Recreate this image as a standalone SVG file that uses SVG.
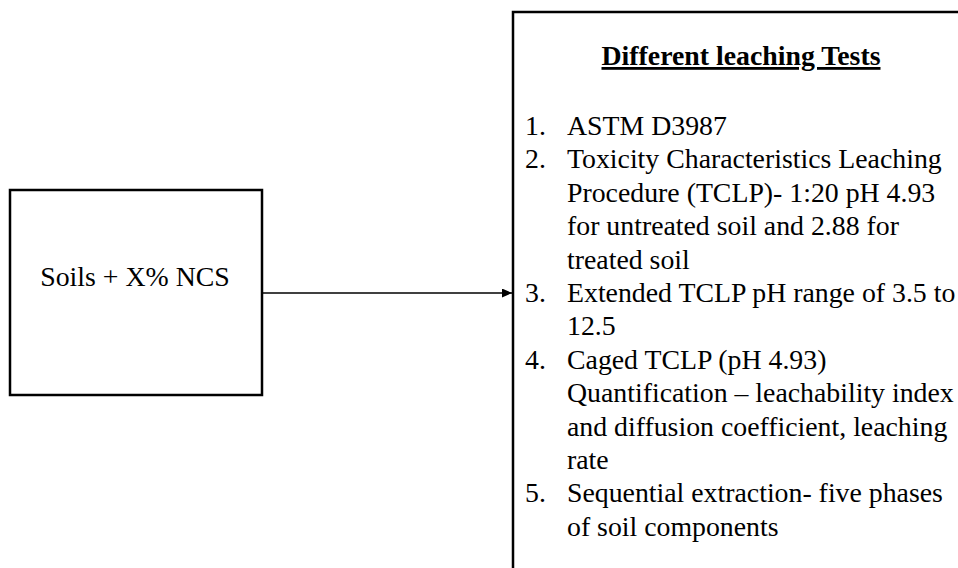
<svg xmlns="http://www.w3.org/2000/svg" width="958" height="568" viewBox="0 0 958 568">
  <style>
    .box { fill: #ffffff; stroke: #000000; stroke-width: 2.5; }
    .txt { font-family: "Liberation Serif", "Times New Roman", serif; font-size: 27.8px; fill: #000000; }
    .title { font-weight: bold; text-decoration: underline; }
    .conn { stroke: #000000; stroke-width: 1.6; fill: none; }
  </style>
  <defs>
    <marker id="arrow" markerUnits="userSpaceOnUse" markerWidth="11" markerHeight="9" refX="10" refY="4.5" orient="auto">
      <path d="M0,0 L10,4.5 L0,9 Z" fill="#000000"/>
    </marker>
  </defs>
  <rect width="958" height="568" fill="#ffffff"/>

  <g id="node-soils">
    <rect class="box" x="10" y="190" width="252" height="205"/>
    <text class="txt" x="135" y="286" text-anchor="middle">Soils + X% NCS</text>
  </g>

  <g id="node-tests">
    <rect class="box" x="513" y="12" width="470" height="580"/>
    <text class="txt title" x="741" y="65" text-anchor="middle">Different leaching Tests</text>
    <g class="txt">
      <text x="525" y="135">1.</text>
      <text x="567" y="135">ASTM D3987</text>
      <text x="525" y="168.4">2.</text>
      <text x="567" y="168.4">Toxicity Characteristics Leaching</text>
      <text x="567" y="201.8">Procedure (TCLP)- 1:20 pH 4.93</text>
      <text x="567" y="235.2">for untreated soil and 2.88 for</text>
      <text x="567" y="268.6">treated soil</text>
      <text x="525" y="302">3.</text>
      <text x="567" y="302">Extended TCLP pH range of 3.5 to</text>
      <text x="567" y="335.4">12.5</text>
      <text x="525" y="368.8">4.</text>
      <text x="567" y="368.8">Caged TCLP (pH 4.93)</text>
      <text x="567" y="402.2">Quantification – leachability index</text>
      <text x="567" y="435.6">and diffusion coefficient, leaching</text>
      <text x="567" y="469">rate</text>
      <text x="525" y="502.4">5.</text>
      <text x="567" y="502.4">Sequential extraction- five phases</text>
      <text x="567" y="535.8">of soil components</text>
    </g>
  </g>

  <g id="connectors">
    <line class="conn" x1="262" y1="293" x2="512" y2="293" marker-end="url(#arrow)"/>
  </g>
</svg>
